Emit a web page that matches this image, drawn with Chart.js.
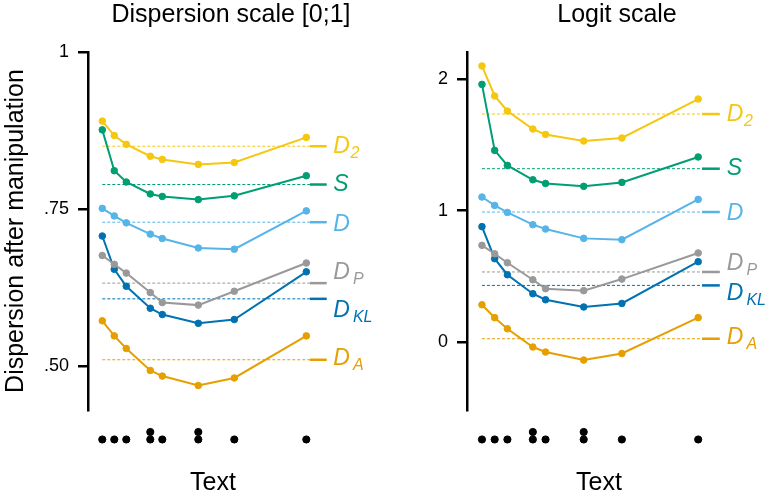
<!DOCTYPE html>
<html>
<head>
<meta charset="utf-8">
<script src="https://cdn.jsdelivr.net/npm/chart.js@4.4.1/dist/chart.umd.min.js"></script>
<style>
  html, body { margin: 0; padding: 0; background: #ffffff; overflow: hidden; }
  #wrap { position: relative; width: 769px; height: 494px; overflow: hidden; background: #ffffff; }
  canvas { position: absolute; top: 0; }
</style>
</head>
<body>
<div id="wrap">
  <canvas id="cDisp" width="462" height="494" style="left:0px;width:462px;height:494px"></canvas>
  <canvas id="cLogit" width="454" height="494" style="left:390px;width:454px;height:494px"></canvas>
</div>
<script>
// ---------------- DATA ----------------
// Text positions (x) of the manipulated points
const textX = [0, 1, 2, 4, 5, 8, 11, 17];
// Rug of texts below the panels (two texts share positions 4 and 8)
const rugX = [0, 1, 2, 4, 4, 5, 8, 8, 11, 17];

const seriesNames = ['D2', 'S', 'D', 'DP', 'DKL', 'DA'];
const labelMain = ['D', 'S', 'D', 'D', 'D', 'D'];
const labelSub  = ['2', '', '', 'P', 'KL', 'A'];

// Dispersion scale [0;1]
const dispD2  = [0.890, 0.867, 0.853, 0.834, 0.829, 0.821, 0.824, 0.864];
const dispS   = [0.876, 0.811, 0.793, 0.774, 0.770, 0.765, 0.771, 0.803];
const dispD   = [0.751, 0.739, 0.728, 0.710, 0.703, 0.688, 0.686, 0.747];
const dispDP  = [0.676, 0.662, 0.648, 0.617, 0.601, 0.597, 0.619, 0.664];
const dispDKL = [0.707, 0.654, 0.627, 0.592, 0.582, 0.568, 0.574, 0.650];
const dispDA  = [0.572, 0.548, 0.528, 0.493, 0.484, 0.469, 0.481, 0.548];
const dispRef = [0.850, 0.789, 0.729, 0.632, 0.607, 0.510];
const dispTickValues = [0.5, 0.75, 1];
const dispTickLabels = ['.50', '.75', '1'];

// Logit scale
const logitD2  = [2.099, 1.871, 1.757, 1.620, 1.579, 1.529, 1.552, 1.848];
const logitS   = [1.959, 1.458, 1.344, 1.235, 1.207, 1.185, 1.215, 1.408];
const logitD   = [1.104, 1.040, 0.987, 0.894, 0.861, 0.790, 0.780, 1.086];
const logitDP  = [0.737, 0.673, 0.605, 0.476, 0.408, 0.393, 0.481, 0.679];
const logitDKL = [0.879, 0.636, 0.514, 0.370, 0.324, 0.269, 0.296, 0.613];
const logitDA  = [0.286, 0.188, 0.104, -0.035, -0.073, -0.134, -0.084, 0.188];
const logitRef = [1.734, 1.319, 0.990, 0.535, 0.433, 0.028];
const logitTickValues = [0, 1, 2];
const logitTickLabels = ['0', '1', '2'];

// ---------------- STYLE / LAYOUT ----------------
const FONT = '"Liberation Sans", Arial, Helvetica, sans-serif';
const colors = ['#F5C710', '#009E73', '#56B4E9', '#999999', '#0072B2', '#E69F00'];
const REF_X0 = 0, REF_X1 = 17.3, STUB_X1 = 18.7, LABEL_X = 19.25;
const RUG_MIN = 0.13, RUG_MAX = 4.93;

const seriesLabelsPlugin = {
  id: 'seriesLabels',
  afterDatasetsDraw(chart, args, opts) {
    const ctx = chart.ctx;
    const xs = chart.scales.x, ys = chart.scales.y;
    const x0 = xs.getPixelForValue(LABEL_X);
    opts.refs.forEach((r, i) => {
      const y = ys.getPixelForValue(r) + opts.nudge[i];
      ctx.save();
      ctx.fillStyle = colors[i];
      ctx.textAlign = 'left';
      ctx.textBaseline = 'alphabetic';
      ctx.font = 'italic 23px ' + FONT;
      ctx.fillText(labelMain[i], x0, y + 7.5);
      const w = ctx.measureText(labelMain[i]).width;
      if (labelSub[i]) {
        const gap = /\d/.test(labelSub[i]) ? 0.5 : 3;
        ctx.font = 'italic 16px ' + FONT;
        ctx.fillText(labelSub[i], x0 + w + gap, y + 12.5);
      }
      ctx.restore();
    });
  }
};

function makePanel(id, p) {
  const datasets = [];
  p.series.forEach((vals, i) => {
    datasets.push({
      label: seriesNames[i],
      data: textX.map((x, j) => ({ x: x, y: vals[j] })),
      borderColor: colors[i],
      backgroundColor: colors[i],
      pointBackgroundColor: colors[i],
      pointBorderColor: colors[i],
      borderWidth: 2,
      pointRadius: 3.3,
      pointBorderWidth: 1,
      pointHoverRadius: 3.3,
      fill: false,
      yAxisID: 'y',
      order: 0
    });
    datasets.push({
      label: seriesNames[i] + ' mean',
      data: [{ x: REF_X0, y: p.ref[i] }, { x: REF_X1, y: p.ref[i] }],
      borderColor: colors[i],
      borderWidth: 1,
      borderDash: [3, 2],
      pointRadius: 0,
      fill: false,
      yAxisID: 'y',
      order: 2
    });
    datasets.push({
      label: seriesNames[i] + ' tick',
      data: [{ x: REF_X1, y: p.ref[i] }, { x: STUB_X1, y: p.ref[i] }],
      borderColor: colors[i],
      borderWidth: 2.5,
      borderCapStyle: 'butt',
      pointRadius: 0,
      fill: false,
      yAxisID: 'y',
      order: 2
    });
  });
  const counts = {};
  const rugData = rugX.map(x => { counts[x] = (counts[x] || 0) + 1; return { x: x, y: counts[x] }; });
  datasets.push({
    label: 'texts',
    data: rugData,
    showLine: false,
    pointRadius: 3.6,
    pointBorderWidth: 1,
    pointBackgroundColor: '#000',
    pointBorderColor: '#000',
    borderColor: '#000',
    backgroundColor: '#000',
    yAxisID: 'yRug',
    order: 0
  });

  return new Chart(document.getElementById(id), {
    type: 'line',
    data: { datasets: datasets },
    plugins: [seriesLabelsPlugin],
    options: {
      responsive: false,
      animation: false,
      events: [],
      layout: { padding: 0 },
      plugins: {
        legend: { display: false },
        tooltip: { enabled: false },
        title: {
          display: true,
          text: p.title,
          color: '#000',
          fullSize: true,
          font: { family: FONT, size: 25, weight: 'normal', lineHeight: 1.2 },
          padding: { top: 0, bottom: 22 }
        },
        seriesLabels: { refs: p.ref, nudge: p.nudge }
      },
      scales: {
        x: {
          type: 'linear',
          min: p.xMin,
          max: p.xMax,
          ticks: { display: false },
          grid: { display: false, drawTicks: false },
          border: { display: false },
          title: {
            display: true,
            text: 'Text',
            color: '#000',
            font: { family: FONT, size: 25, weight: 'normal', lineHeight: 0.9 },
            padding: 0
          },
          afterFit: s => { s.height = 48; }
        },
        y: {
          type: 'linear',
          position: 'left',
          stack: 'panel',
          stackWeight: 358,
          weight: 1,
          min: p.yMin,
          max: p.yMax,
          afterBuildTicks: s => { s.ticks = p.tickValues.map(v => ({ value: v })); },
          ticks: {
            callback: (v, i) => p.tickLabels[i],
            color: '#000',
            font: { family: FONT, size: 18 },
            padding: 9,
            autoSkip: false,
            maxRotation: 0
          },
          grid: {
            display: true,
            drawOnChartArea: false,
            drawTicks: true,
            tickLength: 10,
            tickWidth: 2.5,
            lineWidth: 2.5,
            tickColor: '#000',
            color: '#000'
          },
          border: { display: true, color: '#000', width: 2.5 },
          title: p.yTitle ? {
            display: true,
            text: p.yTitle,
            color: '#000',
            font: { family: FONT, size: 25, weight: 'normal', lineHeight: 1.2 },
            padding: { top: 1, bottom: 0 }
          } : { display: false },
          afterFit: s => { s.width = p.yWidth; }
        },
        yRug: {
          type: 'linear',
          position: 'left',
          stack: 'panel',
          stackWeight: 36,
          weight: 0,
          display: true,
          min: RUG_MIN,
          max: RUG_MAX,
          ticks: { display: false },
          grid: { display: false, drawTicks: false },
          border: { display: false }
        },
        ySpace: {
          type: 'linear',
          position: 'right',
          display: true,
          ticks: { display: false },
          grid: { display: false, drawTicks: false },
          border: { display: false },
          afterFit: s => { s.width = p.rightSpace; }
        }
      }
    }
  });
}

makePanel('cDisp', {
  title: 'Dispersion scale [0;1]',
  yTitle: 'Dispersion after manipulation',
  series: [dispD2, dispS, dispD, dispDP, dispDKL, dispDA],
  ref: dispRef,
  tickValues: dispTickValues,
  tickLabels: dispTickLabels,
  yMin: 0.430, yMax: 1.0,
  xMin: -1.19, xMax: 19.64,
  yWidth: 88, rightSpace: 124,
  nudge: [-1, -1, 1, -11.5, 11, -2]
});

makePanel('cLogit', {
  title: 'Logit scale',
  yTitle: null,
  series: [logitD2, logitS, logitD, logitDP, logitDKL, logitDA],
  ref: logitRef,
  tickValues: logitTickValues,
  tickLabels: logitTickLabels,
  yMin: -0.513, yMax: 2.205,
  xMin: -1.176, xMax: 19.58,
  yWidth: 77, rightSpace: 113,
  nudge: [-1, -1, 0, -9, 7.6, -2]
});
</script>
</body>
</html>
